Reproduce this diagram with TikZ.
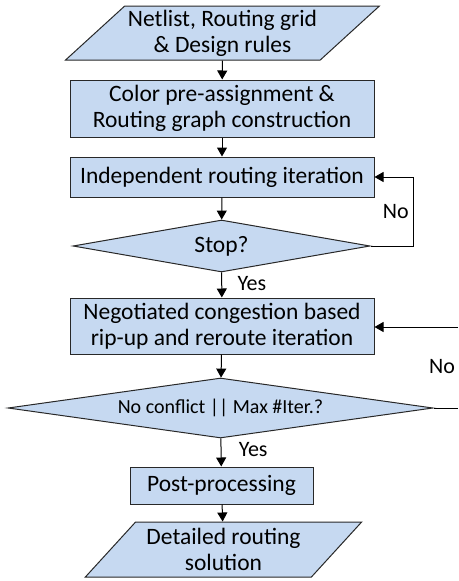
\documentclass[tikz,border=0pt]{standalone}
\usepackage{fontspec}
\setmainfont{Carlito}
\usetikzlibrary{shapes.geometric, arrows.meta}
\definecolor{boxfill}{RGB}{198,217,241}
\definecolor{boxline}{RGB}{40,40,40}

\begin{document}
\begin{tikzpicture}[x=1pt, y=-1pt,
    every node/.style = {font=\fontsize{23.5}{26}\selectfont},
    proc/.style = {draw=boxline, fill=boxfill, line width=1pt, rectangle, align=center, inner sep=0pt},
    io/.style = {draw=boxline, fill=boxfill, line width=1pt, trapezium, trapezium stretches=true, align=center, inner sep=0pt},
    decide/.style = {draw=boxline, fill=boxfill, line width=1pt, diamond, aspect=6, inner sep=0pt},
    lbl/.style = {font=\fontsize{22}{24}\selectfont},
    arr/.style = {draw=black, line width=1pt, -{Triangle[length=9pt, width=10pt]}}]
        \useasboundingbox (0, 0) rectangle (458, 581);

        % inputs and first stage
        \node[io, trapezium left angle=39, trapezium right angle=141,
              minimum width=315pt, minimum height=54pt] (input) at (222.5, 33)
        {Netlist, Routing grid\\\& Design rules};
        \node[proc, minimum width=304pt, minimum height=57pt] (precolor) at (222, 108.5)
        {Color pre-assignment \&\\Routing graph construction};
        \node[proc, minimum width=304pt, minimum height=40pt] (indep) at (222, 177)
        {Independent routing iteration};
        \node[decide, minimum width=297pt, minimum height=52pt] (stop) at (221.5, 246)
        {Stop?};

        % negotiated congestion stage
        \node[proc, minimum width=304pt, minimum height=56pt] (nego) at (222, 326)
        {Negotiated congestion based\\rip-up and reroute iteration};
        \node[decide, minimum width=425pt, minimum height=60pt,
              font=\fontsize{20}{24}\selectfont] (conflict) at (220.5, 408)
        {No conflict || Max \#Iter.?};
        \node[proc, minimum width=183pt, minimum height=37pt] (post) at (221.5, 485.5)
        {Post-processing};
        \node[io, trapezium left angle=44, trapezium right angle=136,
              minimum width=277pt, minimum height=55pt] (output) at (223.5, 549.5)
        {Detailed routing\\solution};

        \draw[arr] (input) -- (precolor);
        \draw[arr] (precolor) -- (indep);
        \draw[arr] (indep) -- (stop);
        \draw[arr] (stop) -- node[lbl, right=12pt, pos=0.45] (yesA) {Yes} (nego);
        \draw[arr] (stop.east) -- ++(43, 0) |- node[lbl, left=1pt, pos=0.25] (noA) {No} (indep.east);

        \draw[arr] (nego) -- (conflict);
        \draw[arr] (conflict) -- node[lbl, right=14pt, pos=0.4] (yesB) {Yes} (post);
        \draw[arr] (post) -- (output);

        \coordinate (edgeA) at (458, 408);
        \coordinate (edgeB) at (458, 327);
        \draw[line width=1pt] (conflict.east) -- (edgeA);
        \draw[arr] (edgeB) -- (nego.east |- edgeB);
        \node[lbl] (noB) at (442, 367) {No};
    \end{tikzpicture}
\end{document}
